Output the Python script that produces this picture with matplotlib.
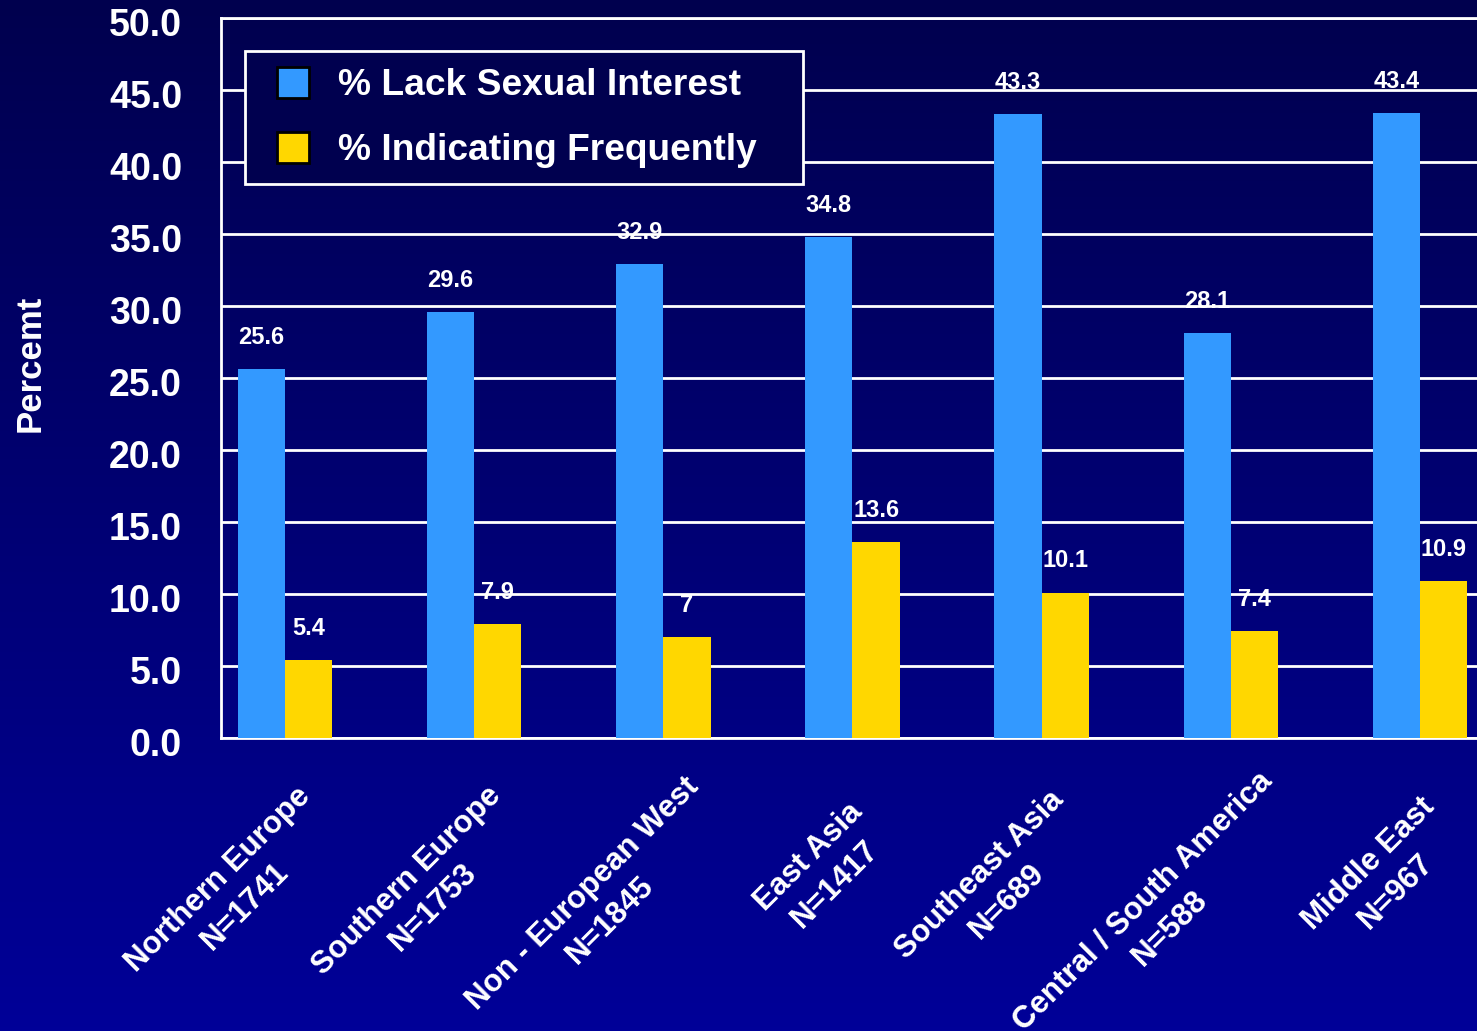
import numpy as np
import matplotlib
matplotlib.use("Agg")
import matplotlib.pyplot as plt
from matplotlib.transforms import offset_copy, blended_transform_factory, ScaledTranslation
from matplotlib.patches import Rectangle
from matplotlib.legend_handler import HandlerPatch

categories = ["Northern Europe\nN=1741", "Southern Europe\nN=1753", "Non - European West\nN=1845",
              "East Asia\nN=1417", "Southeast Asia\nN=689", "Central / South America\nN=588",
              "Middle East\nN=967"]
lack_interest = [25.6, 29.6, 32.9, 34.8, 43.3, 28.1, 43.4]
freq = [5.4, 7.9, 7.0, 13.6, 10.1, 7.4, 10.9]
series_names = ["% Lack Sexual Interest", "% Indicating Frequently"]
yticks = [0, 5, 10, 15, 20, 25, 30, 35, 40, 45, 50]

plt.rcParams['font.family'] = ['Liberation Sans', 'DejaVu Sans']
plt.rcParams['font.weight'] = 'bold'

W, H = 1477, 1031
fig = plt.figure(figsize=(W / 100, H / 100), dpi=100)

# background gradient
bg = fig.add_axes([0, 0, 1, 1], zorder=-10)
grad = np.linspace(0, 1, 256).reshape(-1, 1)
top = np.array([0, 0, 0x4E]) / 255
bot = np.array([0, 0, 0x98]) / 255
img = top[None, None, :] * (1 - grad[:, :, None]) + bot[None, None, :] * grad[:, :, None]
bg.imshow(img, aspect='auto', extent=[0, 1, 0, 1], origin='upper')
bg.set_axis_off()

ax = fig.add_axes([221 / W, 1 - 738 / H, 1 - 221 / W, (738 - 18) / H])
ax.set_facecolor('none')

x = np.arange(len(categories))
bw = 0.25
b1 = ax.bar(x - bw / 2, lack_interest, bw, color='#3399FF', edgecolor='black', linewidth=0, zorder=3)
b2 = ax.bar(x + bw / 2, freq, bw, color='#FFD700', edgecolor='black', linewidth=0, zorder=3)

for bars, vals in ((b1, lack_interest), (b2, freq)):
    for r, v in zip(bars, vals):
        ax.annotate(f"{v:g}", (r.get_x() + r.get_width() / 2, v), xytext=(0, 14.5),
                    textcoords='offset points', ha='center', va='bottom',
                    color='white', fontsize=17, fontweight='bold', zorder=4)

ax.set_xlim(-0.3386, 6.3016)
ax.set_ylim(0, 50)
ax.set_yticks(yticks)
ax.set_yticklabels([f"{t:.1f}" for t in yticks])
ax.tick_params(axis='y', length=0, pad=28, labelsize=27, labelcolor='white')
ax.tick_params(axis='x', length=0, labelbottom=False)
shift = ScaledTranslation(0, -4 / 100, fig.dpi_scale_trans)
for lab in ax.get_yticklabels():
    lab.set_transform(lab.get_transform() + shift)
ax.yaxis.grid(True, color='white', linewidth=2, zorder=1)
ax.set_axisbelow(True)
for s in ['left', 'bottom', 'top']:
    ax.spines[s].set_color('white')
    ax.spines[s].set_linewidth(2)
ax.spines['right'].set_visible(False)

# category labels (rotated 45 deg)
renderer = fig.canvas.get_renderer()
label_kw = dict(color='white', fontsize=22.5, fontweight='bold', linespacing=1.35,
                multialignment='center')
base = blended_transform_factory(ax.transData, ax.transAxes)
for xi, lab in zip(x, categories):
    tmp = fig.text(0, 0, lab, **label_kw)
    wpx = tmp.get_window_extent(renderer).width
    tmp.remove()
    k = 0.148 * wpx
    tr = offset_copy(base, fig=fig, x=-26 + k, y=-80 + k, units='dots')
    ax.text(xi, 0, lab, transform=tr, rotation=45, rotation_mode='anchor',
            ha='right', va='top', **label_kw)

fig.text(30 / W, 1 - 363 / H, "Percemt", rotation=90, ha='center', va='center',
         color='white', fontsize=25, fontweight='bold')


def square_patch(legend, orig_handle, xdescent, ydescent, width, height, fontsize):
    s = height
    return Rectangle((-xdescent + width - s - 3, -ydescent), s, s)


leg = ax.legend(handles=[b1.patches[0], b2.patches[0]], labels=series_names, loc='upper left',
                bbox_to_anchor=(245 / W, 1 - 180 / H, 558 / W, 129 / H),
                bbox_transform=fig.transFigure, mode='expand', borderaxespad=0,
                prop={'size': 26.7, 'weight': 'bold'}, handlelength=1.41, handleheight=0.92,
                handletextpad=0.68, labelspacing=0.78, borderpad=0.42, fancybox=False,
                framealpha=1, facecolor='#00004F', edgecolor='white',
                handler_map={Rectangle: HandlerPatch(patch_func=square_patch)})
leg.get_frame().set_linewidth(2)
for t in leg.get_texts():
    t.set_color('white')
for p in leg.get_patches():
    p.set_edgecolor('black')
    p.set_linewidth(2)
leg.set_zorder(5)

fig.savefig("out.png", dpi=100)
